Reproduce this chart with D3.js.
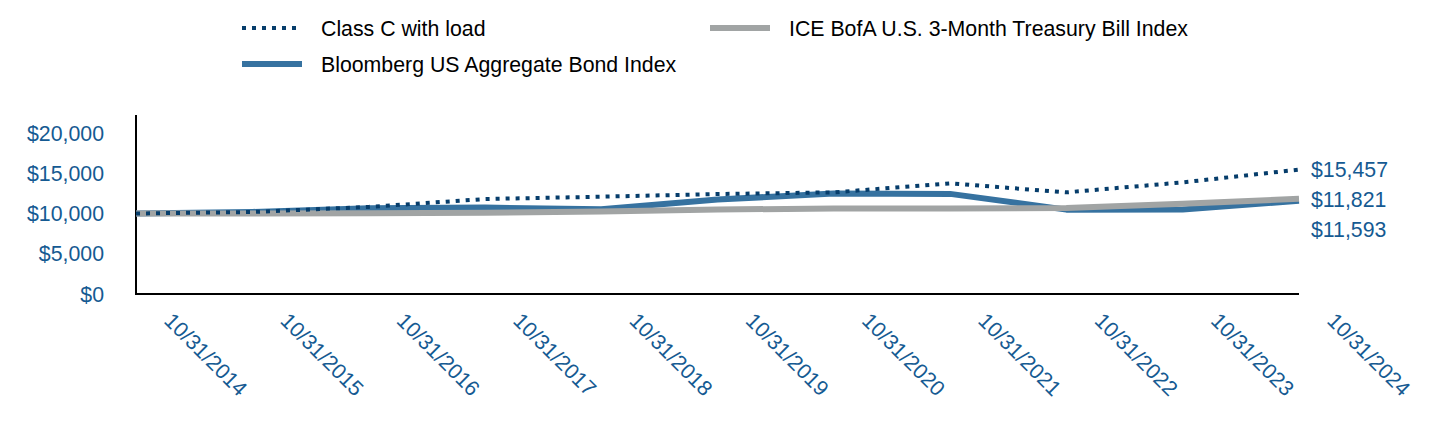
<!DOCTYPE html>
<html>
<head>
<meta charset="utf-8">
<script src="https://cdn.jsdelivr.net/npm/d3@7"></script>
<style>
  body { margin: 0; background: #fff; }
  svg { display: block; font-family: "Liberation Sans", Arial, sans-serif; }
</style>
</head>
<body>
<svg id="chart" width="1440" height="432"></svg>
<script>
// data
const dates = ["10/31/2014", "10/31/2015", "10/31/2016", "10/31/2017", "10/31/2018", "10/31/2019",
               "10/31/2020", "10/31/2021", "10/31/2022", "10/31/2023", "10/31/2024"];
const classC = [10000, 10190, 10820, 11800, 12090, 12420, 12630, 13750, 12630, 13870, 15457];
const bloomberg = [10000, 10196, 10642, 10738, 10518, 11728, 12500, 12440, 10480, 10500, 11593];
const tbill = [10000, 10002, 10024, 10097, 10258, 10500, 10616, 10623, 10689, 11208, 11821];
const yTicks = [0, 5000, 10000, 15000, 20000];

const tickColor = "#155a92";
const fontSize = "21.3px";

const series = [
  { name: "Bloomberg US Aggregate Bond Index", values: bloomberg, color: "#3672a0", width: 6, dash: null },
  { name: "ICE BofA U.S. 3-Month Treasury Bill Index", values: tbill, color: "#a1a4a4", width: 6, dash: null },
  { name: "Class C with load", values: classC, color: "#063d6b", width: 4, dash: "4,6" }
];

const svg = d3.select("#chart");

const x = d3.scalePoint().domain(dates).range([136, 1299]);
const y = d3.scaleLinear().domain([0, 22240]).range([294, 115]);

// axes lines
svg.append("line")
  .attr("x1", 136).attr("x2", 136).attr("y1", y(22240)).attr("y2", y(0))
  .attr("stroke", "#000").attr("stroke-width", 2);
svg.append("line")
  .attr("x1", 135).attr("x2", 1299).attr("y1", y(0)).attr("y2", y(0))
  .attr("stroke", "#000").attr("stroke-width", 2);

// y tick labels
svg.append("g").selectAll("text")
  .data(yTicks)
  .enter().append("text")
  .attr("x", 104)
  .attr("y", d => y(d))
  .attr("dy", "0.36em")
  .attr("text-anchor", "end")
  .attr("font-size", fontSize)
  .attr("fill", tickColor)
  .text(d => "$" + d3.format(",")(d));

// x tick labels, rotated
svg.append("g").selectAll("text")
  .data(dates)
  .enter().append("text")
  .attr("transform", d => "translate(" + (x(d) + 27) + "," + 322 + ") rotate(45)")
  .attr("font-size", fontSize)
  .attr("fill", tickColor)
  .text(d => d);

// lines
const line = d3.line()
  .x((d, i) => x(dates[i]))
  .y(d => y(d));

series.forEach(s => {
  svg.append("path")
    .datum(s.values)
    .attr("d", line)
    .attr("fill", "none")
    .attr("stroke", s.color)
    .attr("stroke-width", s.width)
    .attr("stroke-dasharray", s.dash)
    .attr("stroke-linejoin", "round");
});

// end value labels, pushed apart so they don't overlap
const ends = series.map(s => ({ v: s.values[s.values.length - 1] }))
  .sort((a, b) => b.v - a.v);
let lastY = -Infinity;
ends.forEach(e => {
  e.y = Math.max(y(e.v), lastY + 30);
  lastY = e.y;
});
svg.append("g").selectAll("text")
  .data(ends)
  .enter().append("text")
  .attr("x", 1311)
  .attr("y", d => d.y)
  .attr("dy", "0.36em")
  .attr("font-size", fontSize)
  .attr("fill", tickColor)
  .text(d => "$" + d3.format(",")(d.v));

// legend
const legendItems = [
  { s: series[2], x: 242, y: 28, len: 56 },
  { s: series[0], x: 242, y: 64, len: 60 },
  { s: series[1], x: 710, y: 28, len: 60 }
];
const legend = svg.append("g");
legendItems.forEach(it => {
  legend.append("line")
    .attr("x1", it.x).attr("x2", it.x + it.len)
    .attr("y1", it.y).attr("y2", it.y)
    .attr("stroke", it.s.color)
    .attr("stroke-width", it.s.width)
    .attr("stroke-dasharray", it.s.dash);
  legend.append("text")
    .attr("x", it.x + 79)
    .attr("y", it.y)
    .attr("dy", "0.36em")
    .attr("font-size", fontSize)
    .attr("fill", "#000")
    .text(it.s.name);
});
</script>
</body>
</html>
